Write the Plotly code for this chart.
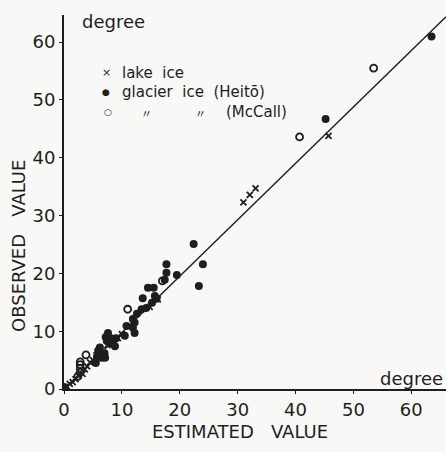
import plotly.graph_objects as go

# ---- data (degrees) ----
lake_x = [0.5, 1.0, 1.5, 2.0, 2.5, 3.2, 3.6, 4.0, 4.5, 5.0, 5.6, 6.5, 7.5, 8.3, 9.3, 10.0, 14.8, 16.2, 31.0, 32.1, 33.1, 45.7]
lake_y = [0.4, 0.9, 1.2, 1.7, 2.3, 2.6, 3.4, 3.9, 4.6, 5.0, 5.8, 6.3, 7.6, 8.4, 8.8, 9.5, 14.2, 15.5, 32.3, 33.6, 34.7, 43.8]

heito_x = [0.2, 5.5, 5.7, 5.9, 6.2, 6.5, 6.8, 7.1, 7.0, 7.2, 7.6, 7.4, 7.9, 8.1, 8.6, 8.8, 9.0, 10.5, 10.8, 11.9,
           12.2, 11.9, 12.6, 12.2, 13.4, 13.6, 14.2, 14.5, 15.5, 15.2, 15.7, 16.0, 17.7, 17.7, 17.4, 19.5, 22.4, 24.0,
           23.3, 45.2, 63.5]
heito_y = [0.3, 4.5, 5.6, 6.6, 7.2, 5.4, 6.0, 5.4, 6.2, 9.0, 9.7, 8.3, 7.9, 8.8, 8.5, 7.4, 8.8, 9.2, 10.9, 10.6,
           9.7, 12.1, 13.0, 11.5, 13.8, 15.7, 14.0, 17.5, 17.5, 14.9, 16.1, 15.6, 21.6, 20.1, 18.9, 19.7, 25.1, 21.6,
           17.8, 46.7, 61.0]

mccall_x = [2.4, 2.8, 2.8, 2.8, 2.8, 3.8, 11.0, 17.0, 40.7, 53.5]
mccall_y = [2.2, 2.9, 3.6, 4.2, 4.7, 5.9, 13.8, 18.7, 43.6, 55.5]

fit_x = [0.0, 66.0]
fit_y = [0.0, 64.4]

x_ticks = [0, 10, 20, 30, 40, 50, 60]
y_ticks = [0, 10, 20, 30, 40, 50, 60]

INK = "#1e1e1e"
BG = "#f8f8f6"
FONT = "DejaVu Sans"

fig = go.Figure()
fig.add_trace(go.Scatter(x=fit_x, y=fit_y, mode="lines", line=dict(color=INK, width=1.4), showlegend=False))
fig.add_trace(go.Scatter(x=heito_x, y=heito_y, mode="markers",
                         marker=dict(symbol="circle", size=8, color=INK), showlegend=False))
fig.add_trace(go.Scatter(x=mccall_x, y=mccall_y, mode="markers",
                         marker=dict(symbol="circle-open", size=7, color=INK, line=dict(width=1.8)),
                         showlegend=False))
fig.add_trace(go.Scatter(x=lake_x, y=lake_y, mode="markers",
                         marker=dict(symbol="x-thin", size=6, color=INK, line=dict(width=1.8, color=INK)),
                         showlegend=False))

W, H = 446, 452
L, R, T, B = 64, 0, 15, 63
pw, ph = W - L - R, H - T - B


def px(x):
    return (x - L) / pw


def py(y):
    return (H - B - y) / ph


fig.update_layout(
    width=W, height=H,
    margin=dict(l=L, r=R, t=T, b=B),
    paper_bgcolor=BG, plot_bgcolor=BG,
    font=dict(family=FONT, color=INK),
    xaxis=dict(range=[0, 66], tickvals=x_ticks, showgrid=False, zeroline=False,
               showline=True, linecolor=INK, linewidth=2, ticks="outside", ticklen=3,
               tickcolor=INK, tickfont=dict(size=18, family=FONT, color=INK)),
    yaxis=dict(range=[0, 64.7], tickvals=y_ticks, showgrid=False, zeroline=False,
               showline=True, linecolor=INK, linewidth=2, ticks="outside", ticklen=3,
               tickcolor=INK, tickfont=dict(size=18, family=FONT, color=INK)),
)

NB = "\u00a0"
CJK = "Noto Sans CJK JP"
anns = [
    (80, 22, "degree", 18, "left", 0, FONT),
    (445, 378, "degree", 18, "right", 0, FONT),
    (106, 73, "\u00d7", 11, "center", 0, FONT),
    (120, 73, "lake" + NB * 2 + "ice", 15, "left", 0, FONT),
    (106, 92, "\u25cf", 9, "center", 0, FONT),
    (120, 92, "glacier" + NB * 2 + "ice" + NB * 2 + "(Heit\u014d)", 15, "left", 0, FONT),
    (108, 112, "\u25cb", 9, "center", 0, FONT),
    (146, 113, "\u3003", 11, "center", 0, CJK),
    (200, 113, "\u3003", 11, "center", 0, CJK),
    (224, 112, "(McCall)", 15, "left", 0, FONT),
    (240, 431, "ESTIMATED" + NB * 3 + "VALUE", 18, "center", 0, FONT),
    (18, 246, "OBSERVED" + NB * 3 + "VALUE", 18, "center", -90, FONT),
]
for x, y, t, s, al, ang, fam in anns:
    fig.add_annotation(x=px(x), y=py(y), xref="paper", yref="paper", text=t, showarrow=False,
                       xanchor=al, yanchor="middle", textangle=ang,
                       font=dict(size=s, family=fam, color=INK))

fig.write_html("out.html")
